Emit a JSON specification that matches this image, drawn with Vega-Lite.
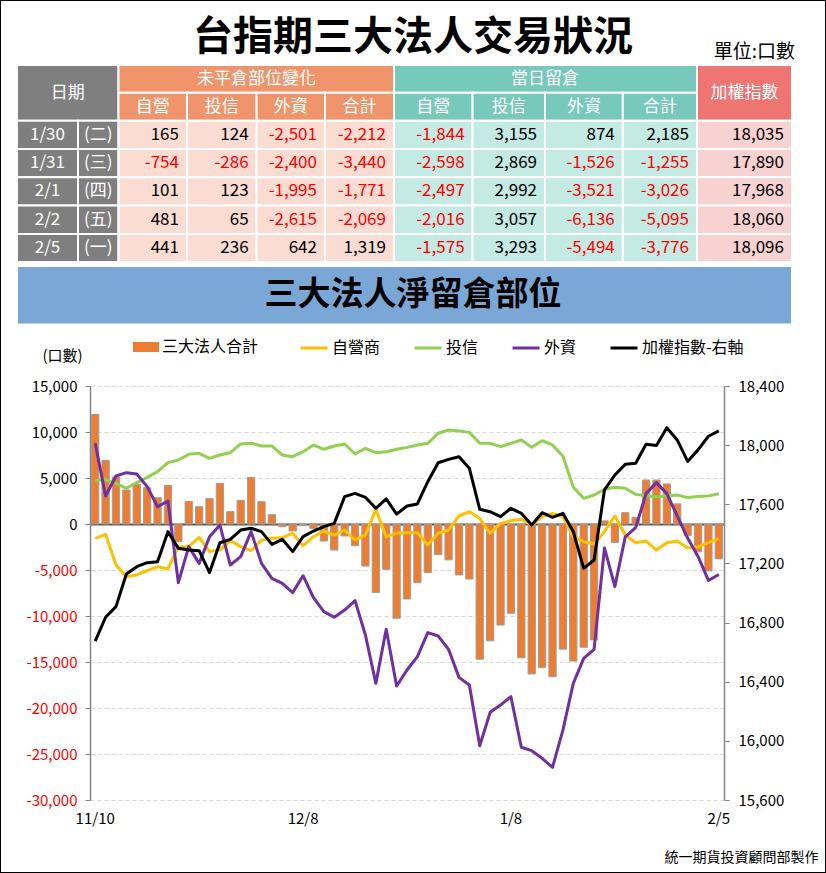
{
  "$schema": "https://vega.github.io/schema/vega-lite/v6.json",
  "width": 826,
  "height": 873,
  "autosize": {"type": "fit", "contains": "padding"},
  "padding": 0,
  "background": "white",
  "config": {
    "font": "Noto Sans CJK TC",
    "view": {"stroke": "#000000", "strokeWidth": 2},
    "locale": {"number": {"decimal": ".", "thousands": ",", "grouping": [3], "currency": ["$", ""], "minus": "-"}},
    "axis": {"labelFont": "Noto Sans CJK TC", "titleFont": "Noto Sans CJK TC"},
    "legend": {"labelFont": "Noto Sans CJK TC"}
  },
  "title": {
    "text": "台指期三大法人交易狀況",
    "fontSize": 40,
    "fontWeight": "bold",
    "font": "Noto Sans CJK TC",
    "color": "#000000",
    "anchor": "middle",
    "offset": -58
  },
  "datasets": {
    "cells": [
      {"role": "u", "r": -1, "r1": 0, "rm": -0.5, "c": 10, "c1": 11, "cm": 10.5, "t": "單位:口數"},
      {"role": "h", "r": 0, "r1": 2, "rm": 1, "c": 0, "c1": 2, "cm": 0.83, "k": "g", "t": "日期"},
      {"role": "h", "r": 0, "r1": 1, "rm": 0.5, "c": 2, "c1": 6, "cm": 4, "k": "o", "t": "未平倉部位變化"},
      {"role": "h", "r": 0, "r1": 1, "rm": 0.5, "c": 6, "c1": 10, "cm": 8, "k": "t", "t": "當日留倉"},
      {"role": "h", "r": 0, "r1": 2, "rm": 1, "c": 10, "c1": 11, "cm": 10.5, "k": "r", "t": "加權指數"},
      {"role": "h", "r": 1, "r1": 2, "rm": 1.5, "c": 2, "c1": 3, "cm": 2.5, "k": "o", "t": "自營"},
      {"role": "h", "r": 1, "r1": 2, "rm": 1.5, "c": 3, "c1": 4, "cm": 3.5, "k": "o", "t": "投信"},
      {"role": "h", "r": 1, "r1": 2, "rm": 1.5, "c": 4, "c1": 5, "cm": 4.5, "k": "o", "t": "外資"},
      {"role": "h", "r": 1, "r1": 2, "rm": 1.5, "c": 5, "c1": 6, "cm": 5.5, "k": "o", "t": "合計"},
      {"role": "h", "r": 1, "r1": 2, "rm": 1.5, "c": 6, "c1": 7, "cm": 6.5, "k": "t", "t": "自營"},
      {"role": "h", "r": 1, "r1": 2, "rm": 1.5, "c": 7, "c1": 8, "cm": 7.5, "k": "t", "t": "投信"},
      {"role": "h", "r": 1, "r1": 2, "rm": 1.5, "c": 8, "c1": 9, "cm": 8.5, "k": "t", "t": "外資"},
      {"role": "h", "r": 1, "r1": 2, "rm": 1.5, "c": 9, "c1": 10, "cm": 9.5, "k": "t", "t": "合計"},

      {"role": "h", "r": 2, "r1": 3, "rm": 2.5, "c": 0, "c1": 1, "cm": 0.5, "k": "g", "t": "1/30"},
      {"role": "h", "r": 2, "r1": 3, "rm": 2.5, "c": 1, "c1": 2, "cm": 1.5, "k": "g", "t": "(二)"},
      {"role": "n", "r": 2, "r1": 3, "rm": 2.5, "c": 2, "c1": 3, "k": "lo", "v": 165},
      {"role": "n", "r": 2, "r1": 3, "rm": 2.5, "c": 3, "c1": 4, "k": "lo", "v": 124},
      {"role": "n", "r": 2, "r1": 3, "rm": 2.5, "c": 4, "c1": 5, "k": "lo", "v": -2501},
      {"role": "n", "r": 2, "r1": 3, "rm": 2.5, "c": 5, "c1": 6, "k": "lo", "v": -2212},
      {"role": "n", "r": 2, "r1": 3, "rm": 2.5, "c": 6, "c1": 7, "k": "lt", "v": -1844},
      {"role": "n", "r": 2, "r1": 3, "rm": 2.5, "c": 7, "c1": 8, "k": "lt", "v": 3155},
      {"role": "n", "r": 2, "r1": 3, "rm": 2.5, "c": 8, "c1": 9, "k": "lt", "v": 874},
      {"role": "n", "r": 2, "r1": 3, "rm": 2.5, "c": 9, "c1": 10, "k": "lt", "v": 2185},
      {"role": "n", "r": 2, "r1": 3, "rm": 2.5, "c": 10, "c1": 11, "k": "lr", "v": 18035},

      {"role": "h", "r": 3, "r1": 4, "rm": 3.5, "c": 0, "c1": 1, "cm": 0.5, "k": "g", "t": "1/31"},
      {"role": "h", "r": 3, "r1": 4, "rm": 3.5, "c": 1, "c1": 2, "cm": 1.5, "k": "g", "t": "(三)"},
      {"role": "n", "r": 3, "r1": 4, "rm": 3.5, "c": 2, "c1": 3, "k": "lo", "v": -754},
      {"role": "n", "r": 3, "r1": 4, "rm": 3.5, "c": 3, "c1": 4, "k": "lo", "v": -286},
      {"role": "n", "r": 3, "r1": 4, "rm": 3.5, "c": 4, "c1": 5, "k": "lo", "v": -2400},
      {"role": "n", "r": 3, "r1": 4, "rm": 3.5, "c": 5, "c1": 6, "k": "lo", "v": -3440},
      {"role": "n", "r": 3, "r1": 4, "rm": 3.5, "c": 6, "c1": 7, "k": "lt", "v": -2598},
      {"role": "n", "r": 3, "r1": 4, "rm": 3.5, "c": 7, "c1": 8, "k": "lt", "v": 2869},
      {"role": "n", "r": 3, "r1": 4, "rm": 3.5, "c": 8, "c1": 9, "k": "lt", "v": -1526},
      {"role": "n", "r": 3, "r1": 4, "rm": 3.5, "c": 9, "c1": 10, "k": "lt", "v": -1255},
      {"role": "n", "r": 3, "r1": 4, "rm": 3.5, "c": 10, "c1": 11, "k": "lr", "v": 17890},

      {"role": "h", "r": 4, "r1": 5, "rm": 4.5, "c": 0, "c1": 1, "cm": 0.5, "k": "g", "t": "2/1"},
      {"role": "h", "r": 4, "r1": 5, "rm": 4.5, "c": 1, "c1": 2, "cm": 1.5, "k": "g", "t": "(四)"},
      {"role": "n", "r": 4, "r1": 5, "rm": 4.5, "c": 2, "c1": 3, "k": "lo", "v": 101},
      {"role": "n", "r": 4, "r1": 5, "rm": 4.5, "c": 3, "c1": 4, "k": "lo", "v": 123},
      {"role": "n", "r": 4, "r1": 5, "rm": 4.5, "c": 4, "c1": 5, "k": "lo", "v": -1995},
      {"role": "n", "r": 4, "r1": 5, "rm": 4.5, "c": 5, "c1": 6, "k": "lo", "v": -1771},
      {"role": "n", "r": 4, "r1": 5, "rm": 4.5, "c": 6, "c1": 7, "k": "lt", "v": -2497},
      {"role": "n", "r": 4, "r1": 5, "rm": 4.5, "c": 7, "c1": 8, "k": "lt", "v": 2992},
      {"role": "n", "r": 4, "r1": 5, "rm": 4.5, "c": 8, "c1": 9, "k": "lt", "v": -3521},
      {"role": "n", "r": 4, "r1": 5, "rm": 4.5, "c": 9, "c1": 10, "k": "lt", "v": -3026},
      {"role": "n", "r": 4, "r1": 5, "rm": 4.5, "c": 10, "c1": 11, "k": "lr", "v": 17968},

      {"role": "h", "r": 5, "r1": 6, "rm": 5.5, "c": 0, "c1": 1, "cm": 0.5, "k": "g", "t": "2/2"},
      {"role": "h", "r": 5, "r1": 6, "rm": 5.5, "c": 1, "c1": 2, "cm": 1.5, "k": "g", "t": "(五)"},
      {"role": "n", "r": 5, "r1": 6, "rm": 5.5, "c": 2, "c1": 3, "k": "lo", "v": 481},
      {"role": "n", "r": 5, "r1": 6, "rm": 5.5, "c": 3, "c1": 4, "k": "lo", "v": 65},
      {"role": "n", "r": 5, "r1": 6, "rm": 5.5, "c": 4, "c1": 5, "k": "lo", "v": -2615},
      {"role": "n", "r": 5, "r1": 6, "rm": 5.5, "c": 5, "c1": 6, "k": "lo", "v": -2069},
      {"role": "n", "r": 5, "r1": 6, "rm": 5.5, "c": 6, "c1": 7, "k": "lt", "v": -2016},
      {"role": "n", "r": 5, "r1": 6, "rm": 5.5, "c": 7, "c1": 8, "k": "lt", "v": 3057},
      {"role": "n", "r": 5, "r1": 6, "rm": 5.5, "c": 8, "c1": 9, "k": "lt", "v": -6136},
      {"role": "n", "r": 5, "r1": 6, "rm": 5.5, "c": 9, "c1": 10, "k": "lt", "v": -5095},
      {"role": "n", "r": 5, "r1": 6, "rm": 5.5, "c": 10, "c1": 11, "k": "lr", "v": 18060},

      {"role": "h", "r": 6, "r1": 7, "rm": 6.5, "c": 0, "c1": 1, "cm": 0.5, "k": "g", "t": "2/5"},
      {"role": "h", "r": 6, "r1": 7, "rm": 6.5, "c": 1, "c1": 2, "cm": 1.5, "k": "g", "t": "(一)"},
      {"role": "n", "r": 6, "r1": 7, "rm": 6.5, "c": 2, "c1": 3, "k": "lo", "v": 441},
      {"role": "n", "r": 6, "r1": 7, "rm": 6.5, "c": 3, "c1": 4, "k": "lo", "v": 236},
      {"role": "n", "r": 6, "r1": 7, "rm": 6.5, "c": 4, "c1": 5, "k": "lo", "v": 642},
      {"role": "n", "r": 6, "r1": 7, "rm": 6.5, "c": 5, "c1": 6, "k": "lo", "v": 1319},
      {"role": "n", "r": 6, "r1": 7, "rm": 6.5, "c": 6, "c1": 7, "k": "lt", "v": -1575},
      {"role": "n", "r": 6, "r1": 7, "rm": 6.5, "c": 7, "c1": 8, "k": "lt", "v": 3293},
      {"role": "n", "r": 6, "r1": 7, "rm": 6.5, "c": 8, "c1": 9, "k": "lt", "v": -5494},
      {"role": "n", "r": 6, "r1": 7, "rm": 6.5, "c": 9, "c1": 10, "k": "lt", "v": -3776},
      {"role": "n", "r": 6, "r1": 7, "rm": 6.5, "c": 10, "c1": 11, "k": "lr", "v": 18096},

      {"role": "b", "r": 8, "r1": 9, "rm": 8.5, "c": 0, "c1": 11, "k": "b", "t": "三大法人淨留倉部位"}
    ],
    "chart": [
      {"d": "11/10", "total": 11900, "dealer": -1560, "trust": 4710, "foreign": 8770, "idx": 16675},
      {"d": "11/13", "total": 6900, "dealer": -1120, "trust": 4860, "foreign": 3040, "idx": 16836},
      {"d": "11/14", "total": 5100, "dealer": -4460, "trust": 4420, "foreign": 5220, "idx": 16908},
      {"d": "11/15", "total": 3700, "dealer": -5720, "trust": 3880, "foreign": 5580, "idx": 17129},
      {"d": "11/16", "total": 4300, "dealer": -5540, "trust": 4490, "foreign": 5430, "idx": 17178},
      {"d": "11/17", "total": 3950, "dealer": -5070, "trust": 5070, "foreign": 4060, "idx": 17205},
      {"d": "11/20", "total": 2860, "dealer": -4640, "trust": 5690, "foreign": 1880, "idx": 17212},
      {"d": "11/21", "total": 4170, "dealer": -4890, "trust": 6670, "foreign": 2500, "idx": 17415},
      {"d": "11/22", "total": -1920, "dealer": -2460, "trust": 6960, "foreign": -6380, "idx": 17302},
      {"d": "11/23", "total": 2460, "dealer": -2460, "trust": 7570, "foreign": -2460, "idx": 17291},
      {"d": "11/24", "total": 1880, "dealer": -1450, "trust": 7680, "foreign": -4280, "idx": 17286},
      {"d": "11/27", "total": 2750, "dealer": -3000, "trust": 7140, "foreign": -1380, "idx": 17138},
      {"d": "11/28", "total": 4420, "dealer": -2830, "trust": 7500, "foreign": -110, "idx": 17340},
      {"d": "11/29", "total": 1340, "dealer": -1810, "trust": 7750, "foreign": -4460, "idx": 17363},
      {"d": "11/30", "total": 2570, "dealer": -2460, "trust": 8700, "foreign": -3550, "idx": 17426},
      {"d": "12/1", "total": 5070, "dealer": -2900, "trust": 8770, "foreign": -830, "idx": 17438},
      {"d": "12/4", "total": 2430, "dealer": -1740, "trust": 8480, "foreign": -4280, "idx": 17415},
      {"d": "12/5", "total": 1010, "dealer": -1560, "trust": 8480, "foreign": -5900, "idx": 17329},
      {"d": "12/6", "total": -290, "dealer": -1500, "trust": 7500, "foreign": -6450, "idx": 17363},
      {"d": "12/7", "total": -760, "dealer": -1000, "trust": 7320, "foreign": -7460, "idx": 17280},
      {"d": "12/8", "total": -150, "dealer": -2360, "trust": 7860, "foreign": -5620, "idx": 17381},
      {"d": "12/11", "total": -500, "dealer": -1380, "trust": 8590, "foreign": -8010, "idx": 17419},
      {"d": "12/12", "total": -1850, "dealer": -760, "trust": 8120, "foreign": -9530, "idx": 17449},
      {"d": "12/13", "total": -2830, "dealer": -1200, "trust": 8480, "foreign": -10140, "idx": 17471},
      {"d": "12/14", "total": -1300, "dealer": -650, "trust": 8700, "foreign": -9350, "idx": 17652},
      {"d": "12/15", "total": -2360, "dealer": -1740, "trust": 7610, "foreign": -8330, "idx": 17674},
      {"d": "12/18", "total": -4570, "dealer": -1200, "trust": 8220, "foreign": -12070, "idx": 17647},
      {"d": "12/19", "total": -7460, "dealer": 1590, "trust": 7750, "foreign": -17320, "idx": 17573},
      {"d": "12/20", "total": -4930, "dealer": -1380, "trust": 7860, "foreign": -11450, "idx": 17636},
      {"d": "12/21", "total": -10250, "dealer": -1010, "trust": 8120, "foreign": -17610, "idx": 17534},
      {"d": "12/22", "total": -8150, "dealer": -940, "trust": 8330, "foreign": -15870, "idx": 17588},
      {"d": "12/25", "total": -6380, "dealer": -940, "trust": 8590, "foreign": -14420, "idx": 17602},
      {"d": "12/26", "total": -5290, "dealer": -2280, "trust": 8770, "foreign": -11810, "idx": 17753},
      {"d": "12/27", "total": -3330, "dealer": -1010, "trust": 9860, "foreign": -12170, "idx": 17881},
      {"d": "12/28", "total": -3900, "dealer": -650, "trust": 10220, "foreign": -13620, "idx": 17904},
      {"d": "12/29", "total": -5540, "dealer": 870, "trust": 10110, "foreign": -16670, "idx": 17922},
      {"d": "1/2", "total": -5980, "dealer": 1340, "trust": 9960, "foreign": -17500, "idx": 17843},
      {"d": "1/3", "total": -14700, "dealer": 620, "trust": 8770, "foreign": -24100, "idx": 17566},
      {"d": "1/4", "total": -12700, "dealer": -1010, "trust": 8770, "foreign": -20470, "idx": 17550},
      {"d": "1/5", "total": -10980, "dealer": 70, "trust": 8410, "foreign": -19670, "idx": 17516},
      {"d": "1/8", "total": -9700, "dealer": 360, "trust": 8770, "foreign": -18770, "idx": 17573},
      {"d": "1/9", "total": -14550, "dealer": 510, "trust": 9130, "foreign": -24270, "idx": 17539},
      {"d": "1/10", "total": -16300, "dealer": -110, "trust": 8330, "foreign": -24640, "idx": 17460},
      {"d": "1/11", "total": -15600, "dealer": 800, "trust": 9060, "foreign": -25470, "idx": 17543},
      {"d": "1/12", "total": -16600, "dealer": 1160, "trust": 8590, "foreign": -26450, "idx": 17512},
      {"d": "1/15", "total": -13600, "dealer": 800, "trust": 7390, "foreign": -22400, "idx": 17539},
      {"d": "1/16", "total": -14900, "dealer": -1380, "trust": 3990, "foreign": -17320, "idx": 17415},
      {"d": "1/17", "total": -13400, "dealer": -1920, "trust": 2790, "foreign": -14600, "idx": 17167},
      {"d": "1/18", "total": -12600, "dealer": -2170, "trust": 3150, "foreign": -13620, "idx": 17223},
      {"d": "1/19", "total": 340, "dealer": -830, "trust": 3770, "foreign": -2600, "idx": 17697},
      {"d": "1/22", "total": -2000, "dealer": 870, "trust": 3990, "foreign": -6800, "idx": 17798},
      {"d": "1/23", "total": 1230, "dealer": -1200, "trust": 3880, "foreign": -1400, "idx": 17870},
      {"d": "1/24", "total": 720, "dealer": -2030, "trust": 3220, "foreign": -400, "idx": 17877},
      {"d": "1/25", "total": 4780, "dealer": -1850, "trust": 3080, "foreign": 3300, "idx": 18006},
      {"d": "1/26", "total": 4780, "dealer": -2830, "trust": 2970, "foreign": 4500, "idx": 17997},
      {"d": "1/29", "total": 4350, "dealer": -2030, "trust": 3040, "foreign": 3300, "idx": 18118},
      {"d": "1/30", "total": 2185, "dealer": -1844, "trust": 3155, "foreign": 874, "idx": 18035},
      {"d": "1/31", "total": -1255, "dealer": -2598, "trust": 2869, "foreign": -1526, "idx": 17890},
      {"d": "2/1", "total": -3026, "dealer": -2497, "trust": 2992, "foreign": -3521, "idx": 17968},
      {"d": "2/2", "total": -5095, "dealer": -2016, "trust": 3057, "foreign": -6136, "idx": 18060},
      {"d": "2/5", "total": -3776, "dealer": -1575, "trust": 3293, "foreign": -5494, "idx": 18096}
    ]
  },
  "layer": [
    {
      "data": {"name": "cells"},
      "layer": [
        {
          "transform": [{"filter": "datum.k != null"}],
          "mark": {"type": "rect", "stroke": "#FFFFFF", "strokeWidth": 2},
          "encoding": {
            "x": {"field": "c", "type": "quantitative", "axis": null,
                  "scale": {"domain": [0, 1, 2, 3, 4, 5, 6, 7, 8, 9, 10, 11], "range": [17, 78, 118.5, 187, 256.6, 325, 394, 472.6, 545, 622.8, 697, 792], "nice": false, "zero": false}},
            "x2": {"field": "c1"},
            "y": {"field": "r", "type": "quantitative", "axis": null,
                  "scale": {"domain": [-1, 0, 1, 2, 3, 4, 5, 6, 7, 8, 9], "range": [38, 65, 92.7, 120.7, 149, 177.3, 205.6, 233.9, 262, 266, 324.5], "nice": false, "zero": false}},
            "y2": {"field": "r1"},
            "color": {"field": "k", "type": "nominal", "legend": null,
                      "scale": {"domain": ["g", "o", "t", "r", "lo", "lt", "lr", "b"], "range": ["#7F7F7F", "#F0956B", "#77C9BB", "#EF7573", "#FADCD3", "#C4EAE4", "#F8D1D1", "#7BA7D6"]}}
          }
        },
        {
          "transform": [{"filter": "datum.role == 'h'"}],
          "mark": {"type": "text", "fontSize": 17, "color": "#FFFFFF", "align": "center", "baseline": "middle"},
          "encoding": {
            "x": {"field": "cm", "type": "quantitative"},
            "y": {"field": "rm", "type": "quantitative"},
            "text": {"field": "t"}
          }
        },
        {
          "transform": [{"filter": "datum.role == 'n'"}],
          "mark": {"type": "text", "fontSize": 17, "align": "right", "baseline": "middle", "dx": -8},
          "encoding": {
            "x": {"field": "c1", "type": "quantitative"},
            "y": {"field": "rm", "type": "quantitative"},
            "text": {"field": "v", "type": "quantitative", "format": ","},
            "color": {"condition": {"test": "datum.v < 0", "value": "#FF0000"}, "value": "#000000"}
          }
        },
        {
          "transform": [{"filter": "datum.role == 'u'"}],
          "mark": {"type": "text", "fontSize": 19, "align": "right", "baseline": "middle", "dx": 3, "color": "#000000"},
          "encoding": {
            "x": {"field": "c1", "type": "quantitative"},
            "y": {"field": "rm", "type": "quantitative"},
            "text": {"field": "t"}
          }
        },
        {
          "transform": [{"filter": "datum.role == 'b'"}],
          "mark": {"type": "text", "fontSize": 33, "fontWeight": "bold", "align": "center", "baseline": "middle", "color": "#000000"},
          "encoding": {
            "y": {"field": "rm", "type": "quantitative"},
            "text": {"field": "t"}
          }
        }
      ]
    },
    {
      "data": {"name": "chart"},
      "layer": [
        {
          "layer": [
            {
              "mark": {"type": "bar", "stroke": "#9E9E9E", "strokeWidth": 1},
              "encoding": {
                "x": {
                  "field": "d", "type": "ordinal", "sort": null,
                  "scale": {"domain": ["11/10","11/13","11/14","11/15","11/16","11/17","11/20","11/21","11/22","11/23","11/24","11/27","11/28","11/29","11/30","12/1","12/4","12/5","12/6","12/7","12/8","12/11","12/12","12/13","12/14","12/15","12/18","12/19","12/20","12/21","12/22","12/25","12/26","12/27","12/28","12/29","1/2","1/3","1/4","1/5","1/8","1/9","1/10","1/11","1/12","1/15","1/16","1/17","1/18","1/19","1/22","1/23","1/24","1/25","1/26","1/29","1/30","1/31","2/1","2/2","2/5"], "range": [90, 724], "paddingInner": 0.3, "paddingOuter": 0.15},
                  "axis": {
                    "orient": "bottom", "offset": -73,
                    "values": ["11/10", "12/8", "1/8", "2/5"],
                    "domain": false, "ticks": false, "grid": false,
                    "labelAngle": 0, "labelFontSize": 15, "labelPadding": 11, "labelColor": "#000000",
                    "title": "統一期貨投資顧問部製作",
                    "titleX": 818, "titleY": 57, "titleAlign": "right", "titleBaseline": "middle",
                    "titleFontSize": 14, "titleFontWeight": "normal", "titleColor": "#000000"
                  }
                },
                "y": {
                  "field": "total", "type": "quantitative",
                  "scale": {"domain": [-30000, 15000], "range": [800, 386], "nice": false, "zero": false},
                  "axis": {
                    "orient": "left", "offset": -90,
                    "values": [-30000, -25000, -20000, -15000, -10000, -5000, 0, 5000, 10000, 15000],
                    "format": ",d",
                    "title": "(口數)", "titleAngle": 0, "titleX": -28, "titleY": 355,
                    "titleAlign": "center", "titleBaseline": "middle",
                    "titleFontSize": 15, "titleFontWeight": "normal", "titleColor": "#000000",
                    "labelFontSize": 15, "labelPadding": 8,
                    "labelColor": {"condition": {"test": "datum.value < 0", "value": "#FF0000"}, "value": "#000000"},
                    "tickSize": 5, "tickColor": "#868686", "domainColor": "#868686", "domainWidth": 1.5,
                    "grid": true,
                    "gridColor": {"condition": {"test": "datum.value === 0", "value": "#595959"}, "value": "#D9D9D9"},
                    "gridDash": {"condition": {"test": "datum.value === 0", "value": []}, "value": [4, 3]},
                    "gridWidth": {"condition": {"test": "datum.value === 0", "value": 2}, "value": 1}
                  }
                },
                "fill": {
                  "datum": "三大法人合計", "type": "nominal",
                  "scale": {"range": ["#ED7D31"]},
                  "legend": {
                    "orient": "none", "legendX": 133, "legendY": 334, "title": null,
                    "symbolType": "M-1,-0.385L1,-0.385L1,0.385L-1,0.385Z", "symbolSize": 676, "symbolStrokeWidth": 0,
                    "labelFontSize": 16, "labelOffset": 3, "labelColor": "#000000"
                  }
                }
              }
            },
            {
              "transform": [{"fold": ["dealer", "trust", "foreign"], "as": ["series", "v"]}],
              "mark": {"type": "line", "strokeWidth": 3, "strokeJoin": "round"},
              "encoding": {
                "x": {"field": "d", "type": "ordinal", "sort": null},
                "y": {"field": "v", "type": "quantitative"},
                "stroke": {
                  "field": "series", "type": "nominal",
                  "scale": {"domain": ["dealer", "trust", "foreign", "idx"], "range": ["#FFC000", "#92D050", "#7030A0", "#000000"]},
                  "legend": {
                    "orient": "none", "direction": "horizontal", "legendX": 299, "legendY": 333, "title": null,
                    "symbolType": "stroke", "symbolSize": 729, "symbolStrokeWidth": 3,
                    "labelFontSize": 16, "labelOffset": 3, "columnPadding": 27, "labelColor": "#000000",
                    "labelExpr": "{'dealer': '自營商', 'trust': '投信', 'foreign': '外資', 'idx': '加權指數-右軸'}[datum.label]"
                  }
                }
              }
            }
          ]
        },
        {
          "transform": [{"fold": ["idx"], "as": ["series", "v"]}],
          "mark": {"type": "line", "strokeWidth": 3, "strokeJoin": "round"},
          "encoding": {
            "x": {"field": "d", "type": "ordinal", "sort": null},
            "y": {
              "field": "v", "type": "quantitative",
              "scale": {"domain": [15600, 18400], "range": [800, 386], "nice": false, "zero": false},
              "axis": {
                "orient": "right", "offset": -102,
                "values": [15600, 16000, 16400, 16800, 17200, 17600, 18000, 18400],
                "format": ",d", "title": null, "grid": false,
                "labelFontSize": 15, "labelPadding": 9, "labelColor": "#000000",
                "tickSize": 5, "tickColor": "#868686", "domainColor": "#868686", "domainWidth": 1.5
              }
            },
            "stroke": {"field": "series", "type": "nominal"}
          }
        }
      ],
      "resolve": {"scale": {"y": "independent"}}
    }
  ],
  "resolve": {"scale": {"x": "independent", "y": "independent"}}
}
